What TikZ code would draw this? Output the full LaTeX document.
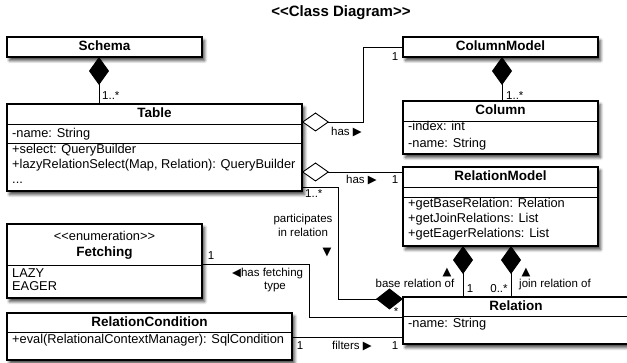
\documentclass[tikz,border=0pt]{standalone}
\usepackage{fontspec}
\setmainfont{Liberation Sans}
\newfontfamily\symfont{DejaVu Sans}
\usetikzlibrary{arrows.meta,shadows,shadows.blur}
\tikzset{
 cls/.style={draw, line width=1.1pt, fill=white, anchor=north west, inner sep=0pt, outer sep=0pt,
   blur shadow={shadow xshift=2.5pt, shadow yshift=-3.5pt, shadow blur radius=3pt, shadow blur steps=6, shadow opacity=75}},
 divider/.style={line width=1pt},
 ttl/.style={font=\fontsize{13.5}{16}\selectfont\bfseries, inner sep=0pt, text height=10pt, text depth=3pt},
 attr/.style={font=\fontsize{12.8}{15}\selectfont, inner sep=0pt, anchor=west, text height=9pt, text depth=3pt},
 lab/.style={font=\fontsize{11.5}{14}\selectfont, inner sep=0pt, text height=8.5pt, text depth=2.5pt},
 conn/.style={line width=0.9pt},
 comp/.style={conn, {Diamond[length=28pt,width=20pt]}-},
 compend/.style={conn, -{Diamond[length=27pt,width=21pt]}},
 aggr/.style={conn, {Diamond[open,fill=white,length=27pt,width=19pt]}-},
}
\begin{document}
\begin{tikzpicture}[x=1pt,y=-1pt]
\useasboundingbox (0,0) rectangle (627,363);

\node[font=\fontsize{15}{18}\selectfont\bfseries, inner sep=0pt] (title) at (341,13) {<{}<Class Diagram>{}>};

% Schema
\node[cls, minimum width=195pt, minimum height=20pt] (schema) at (7,37) {};
\node[ttl] (schemaT) at (104.5,47) {Schema};

% Table
\node[cls, minimum width=295pt, minimum height=87pt] (table) at (7,104) {};
\draw[divider] ([yshift=-21pt]table.north west) -- ([yshift=-21pt]table.north east);
\draw[divider] ([yshift=-40pt]table.north west) -- ([yshift=-40pt]table.north east);
\node[ttl] (tableT) at (154.5,114.5) {Table};
\node[attr] (tableA) at (12,134.5) {-name: String};
\node[attr] (tableM1) at (12,151) {+select: QueryBuilder};
\node[attr] (tableM2) at (12,166) {+lazyRelationSelect(Map, Relation): QueryBuilder};
\node[attr] (tableM3) at (12,181) {...};

% ColumnModel
\node[cls, minimum width=195pt, minimum height=20pt] (colmodel) at (403,37) {};
\node[ttl] (colmodelT) at (500.5,47) {ColumnModel};

% Column
\node[cls, minimum width=195pt, minimum height=53pt] (column) at (403,101) {};
\draw[divider] ([yshift=-21pt]column.north west) -- ([yshift=-21pt]column.north east);
\node[ttl] (columnT) at (500.5,111.5) {Column};
\node[attr] (columnA1) at (408,128) {-index: int};
\node[attr] (columnA2) at (408,145) {-name: String};

% RelationModel
\node[cls, minimum width=195pt, minimum height=79pt] (relmodel) at (403,167) {};
\draw[divider] ([yshift=-21pt]relmodel.north west) -- ([yshift=-21pt]relmodel.north east);
\draw[divider] ([yshift=-31pt]relmodel.north west) -- ([yshift=-31pt]relmodel.north east);
\node[ttl] (relmodelT) at (500.5,177.5) {RelationModel};
\node[attr] (relmodelM1) at (408,205) {+getBaseRelation: Relation};
\node[attr] (relmodelM2) at (408,220) {+getJoinRelations: List};
\node[attr] (relmodelM3) at (408,235) {+getEagerRelations: List};

% Fetching
\node[cls, minimum width=195pt, minimum height=74pt] (fetching) at (7,224) {};
\draw[divider] ([yshift=-42pt]fetching.north west) -- ([yshift=-42pt]fetching.north east);
\node[attr, anchor=center] (fetchingS) at (104.5,238) {<{}<enumeration>{}>};
\node[ttl] (fetchingT) at (104.5,253) {Fetching};
\node[attr] (fetchingA1) at (12,275) {LAZY};
\node[attr] (fetchingA2) at (12,288) {EAGER};

% RelationCondition
\node[cls, minimum width=285pt, minimum height=47pt] (relcond) at (7,313) {};
\draw[divider] ([yshift=-20pt]relcond.north west) -- ([yshift=-20pt]relcond.north east);
\node[ttl] (relcondT) at (149.5,323) {RelationCondition};
\node[attr] (relcondM) at (12,341) {+eval(RelationalContextManager): SqlCondition};

% Relation
\node[cls, minimum width=226pt, minimum height=47pt] (relation) at (403,297) {};
\draw[divider] ([yshift=-20pt]relation.north west) -- ([yshift=-20pt]relation.north east);
\node[ttl] (relationT) at (516,307) {Relation};
\node[attr] (relationA) at (408,325) {-name: String};

% Connectors
\coordinate (ss) at ([xshift=-5.5pt]schema.south);
\draw[comp] (ss) -- (ss |- table.north);
\node[lab, anchor=west] (l1) at (102,97) {1..*};

\coordinate (cs) at ([xshift=1.5pt]colmodel.south);
\draw[comp] (cs) -- (cs |- column.north);
\node[lab, anchor=west] (l2) at (506,97) {1..*};

\draw[aggr] ([yshift=-18pt]table.north east) -- ++(61,0) |- (colmodel.west);
\node[lab] (l3) at (395,58) {1};
\node[lab, anchor=west] (l4) at (331,133) {has {\symfont ▶}};

\draw[aggr] ([yshift=-68pt]table.north east) -- ([yshift=-5pt]relmodel.north west);
\node[lab, anchor=west] (l5) at (346,181) {has {\symfont ▶}};
\node[lab] (l6) at (395,181) {1};

\draw[compend] ([yshift=4pt]table.south east) -- ++(36,0) |- ([yshift=-2pt]relation.north west);
\node[lab, anchor=west] (l7) at (305,195) {1..*};
\node[lab, align=center] (l8) at (303,234) {participates\\in relation};
\node[lab] (l9) at (327,253) {\symfont ▼};
\node[lab] (l10) at (396,313) {*};

\draw[conn] ([yshift=-40pt]fetching.north east) -- ++(107,0) |- ([yshift=-20pt]relation.north west);
\node[lab] (l11) at (211,257) {1};
\node[lab, anchor=west] (l12) at (232,274) {{\symfont ◀}has fetching};
\node[lab] (l13) at (275,287) {type};

\draw[conn] ([yshift=-24pt]relcond.north east) -- ([yshift=-40pt]relation.north west);
\node[lab] (l14) at (300,347) {1};
\node[lab, anchor=west] (l15) at (332,347) {filters {\symfont ▶}};
\node[lab] (l16) at (395,347) {1};

\coordinate (bs) at ([xshift=-37.5pt]relmodel.south);
\coordinate (js) at ([xshift=10.5pt]relmodel.south);
\draw[comp] (bs) -- (bs |- relation.north);
\draw[comp] (js) -- (js |- relation.north);
\node[lab] (l17) at (415,285) {base relation of};
\node[lab] (l18) at (447,273) {\symfont ▲};
\node[lab] (l19) at (470,290) {1};
\node[lab] (l20) at (499,290) {0..*};
\node[lab] (l21) at (526,273) {\symfont ▲};
\node[lab] (l22) at (555,285) {join relation of};
\end{tikzpicture}
\end{document}
